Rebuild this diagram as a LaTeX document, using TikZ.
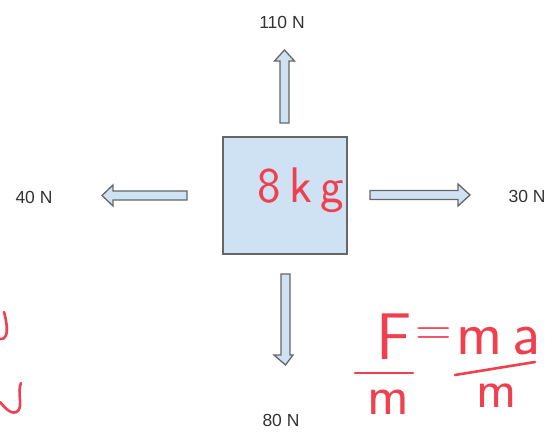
\documentclass[tikz,border=0pt]{standalone}
\usepackage{fontspec}
\setmainfont{Liberation Sans}
\newfontfamily\handfont{Latin Modern Sans}
\definecolor{boxfill}{HTML}{CFE2F3}
\definecolor{edgegray}{HTML}{666666}
\definecolor{ink}{RGB}{240,64,80}
\begin{document}
\begin{tikzpicture}[x=1pt,y=-1pt,
  blockarrow/.style={fill=boxfill,draw=edgegray,line width=1.3pt,line join=miter},
  massbox/.style={fill=boxfill,draw=edgegray,line width=2pt,minimum width=124pt,minimum height=117pt,inner sep=0pt},
  forcelabel/.style={text=black!80,font=\fontsize{17.5}{17.5}\selectfont,inner sep=0pt},
  hand/.style={text=ink,inner sep=0pt},
  inkline/.style={draw=ink,line width=2.6pt,line cap=round}]
\useasboundingbox (0,0) rectangle (555,435);
% mass box
\node[massbox] (box) at (285,195.5) {};
% arrows
\path[blockarrow] (280,123) -- (280,61) -- (274.5,61) -- (284.5,50) -- (294.5,61) -- (289,61) -- (289,123) -- cycle;
\path[blockarrow] (281,274) -- (281,355) -- (274,355) -- (285.5,365) -- (293,355) -- (290,355) -- (290,274) -- cycle;
\path[blockarrow] (187,191) -- (113,191) -- (113,185) -- (102,195.5) -- (113,206) -- (113,200) -- (187,200) -- cycle;
\path[blockarrow] (370,190.5) -- (458,190.5) -- (458,184) -- (470,195) -- (458,206) -- (458,199.5) -- (370,199.5) -- cycle;
% labels
\node[forcelabel] (up) at (282,22) {110 N};
\node[forcelabel] (left) at (34,197) {40 N};
\node[forcelabel] (right) at (527,196) {30 N};
\node[forcelabel] (down) at (281,420) {80 N};
% handwriting
\node[hand,anchor=base west,font=\handfont\fontsize{50}{50}\selectfont] (mass) at (257,203) {8\,k\,g};
\node[hand,anchor=base west,font=\handfont\fontsize{66}{66}\selectfont] (F) at (376,360) {F};
\node[hand,font=\handfont\fontsize{50}{50}\selectfont] (eq) at (434,337) {=};
\node[hand,anchor=base west,font=\handfont\fontsize{62}{62}\selectfont] (ma) at (456,355) {m\,a};
\node[hand,anchor=base west,font=\handfont\fontsize{56}{56}\selectfont] (m1) at (367,415) {m};
\node[hand,anchor=base west,font=\handfont\fontsize{54}{54}\selectfont] (m2) at (476,408) {m};
\coordinate (l1a) at (355,373); \coordinate (l1b) at (413,373);
\coordinate (l2a) at (455,375); \coordinate (l2b) at (535,362);
\draw[inkline] (l1a) -- (l1b);
\draw[inkline] (l2a) -- (l2b);
% partial scribbles at left edge
\draw[inkline] (4,312) .. controls (7,322) and (8,334) .. (5,337) .. controls (3,339) .. (0,339);
\draw[inkline] (21,383) .. controls (17,392) and (23,405) .. (18,411) .. controls (12,416) and (5,408) .. (0,402);
\end{tikzpicture}
\end{document}
